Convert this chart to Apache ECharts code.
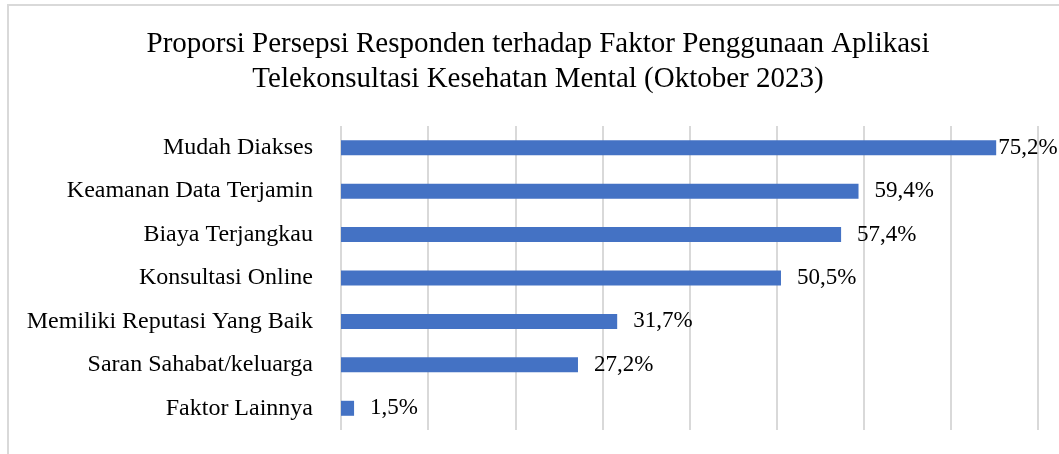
<!DOCTYPE html>
<html>
<head>
<meta charset="utf-8">
<script src="https://cdn.jsdelivr.net/npm/echarts@6/dist/echarts.min.js"></script>
<style>
html,body{margin:0;padding:0;background:#fff;}
#chart{width:1059px;height:454px;}
</style>
</head>
<body>
<div id="chart"></div>
<script>
const titleText = 'Proporsi Persepsi Responden terhadap Faktor Penggunaan Aplikasi\nTelekonsultasi Kesehatan Mental (Oktober 2023)';
const categories = ['Mudah Diakses','Keamanan Data Terjamin','Biaya Terjangkau','Konsultasi Online','Memiliki Reputasi Yang Baik','Saran Sahabat/keluarga','Faktor Lainnya'];
const values = [75.2, 59.4, 57.4, 50.5, 31.7, 27.2, 1.5];
const labelDistances = [2, 16, 16, 16, 16, 16, 16];

const FONT = '"Liberation Serif", "Times New Roman", serif';
const chart = echarts.init(document.getElementById('chart'), null, {renderer:'canvas'});
chart.setOption({
  backgroundColor:'#fff',
  animation:false,
  graphic:[{type:'rect', shape:{x:8,y:5,width:1200,height:600}, style:{fill:'none', stroke:'#d9d9d9', lineWidth:2}, silent:true}],
  title:{
    text:titleText, left:538, textAlign:'center', top:27, padding:0,
    textStyle:{fontFamily:FONT, fontSize:29, fontWeight:'normal', color:'#000', lineHeight:35}
  },
  grid:{left:341, right:21, top:126, bottom:24, containLabel:false},
  xAxis:{type:'value', min:0, max:80, interval:10,
    axisLabel:{show:false}, axisLine:{show:false}, axisTick:{show:false},
    splitLine:{show:true, lineStyle:{color:'#d9d9d9', width:2}}},
  yAxis:{type:'category', data:categories, inverse:true,
    axisLine:{show:false}, axisTick:{show:false},
    axisLabel:{margin:28, fontFamily:FONT, fontSize:24, color:'#000'}},
  series:[{
    type:'bar', barWidth:15,
    itemStyle:{color:'#4472C4'},
    data: values.map((v,i)=>({value:v, label:{distance:labelDistances[i]}})),
    label:{show:true, position:'right', fontFamily:FONT, fontSize:23, color:'#000',
      formatter:p=>p.value.toFixed(1).replace('.',',')+'%'}
  }]
});
</script>
</body>
</html>
